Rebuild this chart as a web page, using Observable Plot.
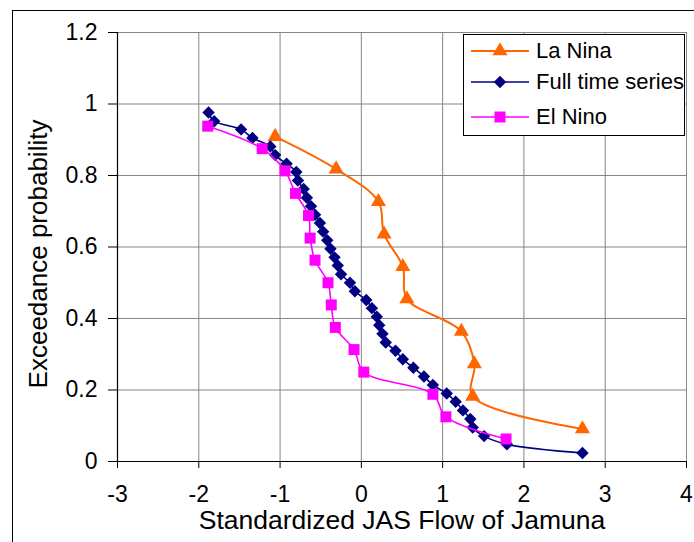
<!DOCTYPE html>
<html>
<head>
<meta charset="utf-8">
<script src="https://cdn.jsdelivr.net/npm/d3@7"></script>
<script src="https://cdn.jsdelivr.net/npm/@observablehq/plot@0.6"></script>
<style>
  html, body { margin: 0; padding: 0; background: #fff; }
  #wrap { position: relative; width: 694px; height: 542px; overflow: hidden; font-family: "Liberation Sans", Arial, sans-serif; }
  #border { position: absolute; left: 12px; top: 10px; width: 700px; height: 560px; border: 1.5px solid #000; box-sizing: border-box; pointer-events: none; }
  #legend { position: absolute; left: 463px; top: 34px; width: 222px; height: 102px; border: 1px solid #000; background: #fff; box-sizing: border-box; }
  .item { position: absolute; left: 0; height: 30px; display: flex; align-items: center; font-size: 22px; color: #000; white-space: nowrap; }
  .item svg { margin-left: 7px; margin-right: 7px; }
</style>
</head>
<body>
<div id="wrap"></div>
<script>
// Data
const laNinaX = [-1.06, -0.31, 0.21, 0.28, 0.51, 0.56, 1.23, 1.39, 1.37, 2.72];
const laNinaP = [0.909, 0.818, 0.727, 0.636, 0.545, 0.455, 0.364, 0.273, 0.182, 0.091];

const fullX = [-1.88, -1.81, -1.48, -1.34, -1.12, -1.06, -0.92, -0.80, -0.78, -0.71,
  -0.67, -0.62, -0.57, -0.51, -0.47, -0.42, -0.38, -0.33, -0.29, -0.25,
  -0.14, -0.08, 0.06, 0.13, 0.19, 0.22, 0.26, 0.30, 0.42, 0.51,
  0.64, 0.77, 0.88, 1.05, 1.16, 1.25, 1.34, 1.37, 1.51, 1.79, 2.72];
const fullP = [0.976, 0.952, 0.929, 0.905, 0.881, 0.857, 0.833, 0.810, 0.786, 0.762,
  0.738, 0.714, 0.690, 0.667, 0.643, 0.619, 0.595, 0.571, 0.548, 0.524,
  0.500, 0.476, 0.452, 0.429, 0.405, 0.381, 0.357, 0.333, 0.310, 0.286,
  0.262, 0.238, 0.214, 0.190, 0.167, 0.143, 0.119, 0.095, 0.071, 0.048, 0.024];

const elNinoX = [-1.89, -1.22, -0.94, -0.81, -0.65, -0.63, -0.57, -0.41, -0.37, -0.32, -0.09, 0.03, 0.88, 1.04, 1.78];
const elNinoP = [0.938, 0.875, 0.813, 0.750, 0.688, 0.625, 0.563, 0.500, 0.438, 0.375, 0.313, 0.250, 0.188, 0.125, 0.063];

const seriesNames = ["La Nina", "Full time series", "El Nino"];
const seriesColors = ["#FF6600", "#000080", "#FF00FF"];
const seriesSymbols = ["triangle", "diamond2", "square"];

const xTicks = [-3, -2, -1, 0, 1, 2, 3, 4];
const yTicks = [0, 0.2, 0.4, 0.6, 0.8, 1, 1.2];
const yTickLabels = ["0", "0.2", "0.4", "0.6", "0.8", "1", "1.2"];
const xTitle = "Standardized JAS Flow of Jamuna";
const yTitle = "Exceedance probability";

const toRows = (xs, ps) => xs.map((x, i) => ({x, p: ps[i]}));
const laNina = toRows(laNinaX, laNinaP);
const full = toRows(fullX, fullP);
const elNino = toRows(elNinoX, elNinoP);
const all = [laNina, full, elNino];
const sizes = [5.6, 5.6, 6.2];
const widths = [2, 1.6, 1.6];

const marks = [
  Plot.gridX(xTicks, {stroke: "#858585", strokeOpacity: 1, strokeWidth: 1}),
  Plot.gridY(yTicks, {stroke: "#858585", strokeOpacity: 1, strokeWidth: 1}),
  Plot.ruleX([-3], {stroke: "#000", strokeWidth: 1.2}),
  Plot.ruleY([0], {stroke: "#000", strokeWidth: 1.2}),
  Plot.axisX({ticks: xTicks, tickSize: 7, tickPadding: 17, label: null, fontSize: 23, tickFormat: d => String(d)}),
  Plot.axisY({ticks: yTicks, tickSize: 9, tickPadding: 11, label: null, fontSize: 23, tickFormat: d => yTickLabels[yTicks.indexOf(d)]}),
  Plot.text([xTitle], {frameAnchor: "bottom", dy: 67, fontSize: 26.5, fill: "#000"}),
  Plot.text([yTitle], {frameAnchor: "left", textAnchor: "middle", dx: -79, dy: 7, rotate: -90, fontSize: 26, fill: "#000"})
];
all.forEach((rows, k) => {
  marks.push(Plot.line(rows, {x: "x", y: "p", stroke: seriesColors[k], strokeWidth: widths[k], curve: "catmull-rom"}));
  marks.push(Plot.dot(rows, {x: "x", y: "p", symbol: seriesSymbols[k], fill: seriesColors[k], stroke: "none", r: sizes[k]}));
});

const chart = Plot.plot({
  width: 694,
  height: 542,
  marginLeft: 117,
  marginRight: 8,
  marginTop: 32,
  marginBottom: 81,
  style: {fontFamily: "'Liberation Sans', Arial, sans-serif", color: "#000", background: "#fff", overflow: "visible"},
  x: {domain: [-3, 4], ticks: xTicks},
  y: {domain: [0, 1.2], ticks: yTicks},
  marks
});

const wrap = document.getElementById("wrap");
wrap.appendChild(chart);
const border = document.createElement("div");
border.id = "border";
wrap.appendChild(border);

// Legend (HTML overlay)
const legend = document.createElement("div");
legend.id = "legend";
const tops = [1, 32, 67];
const symMap = {triangle: d3.symbolTriangle, diamond2: d3.symbolDiamond2, square: d3.symbolSquare};
seriesNames.forEach((name, k) => {
  const item = document.createElement("div");
  item.className = "item";
  item.style.top = tops[k] + "px";
  const s = d3.create("svg").attr("width", 58).attr("height", 20);
  s.append("line").attr("x1", 0).attr("x2", 58).attr("y1", 10).attr("y2", 10)
    .attr("stroke", seriesColors[k]).attr("stroke-width", widths[k]);
  s.append("path").attr("transform", "translate(29,10)")
    .attr("d", d3.symbol(symMap[seriesSymbols[k]], Math.PI * sizes[k] * sizes[k])())
    .attr("fill", seriesColors[k]);
  item.appendChild(s.node());
  const t = document.createElement("span");
  t.textContent = name;
  item.appendChild(t);
  legend.appendChild(item);
});
wrap.appendChild(legend);
</script>
</body>
</html>
